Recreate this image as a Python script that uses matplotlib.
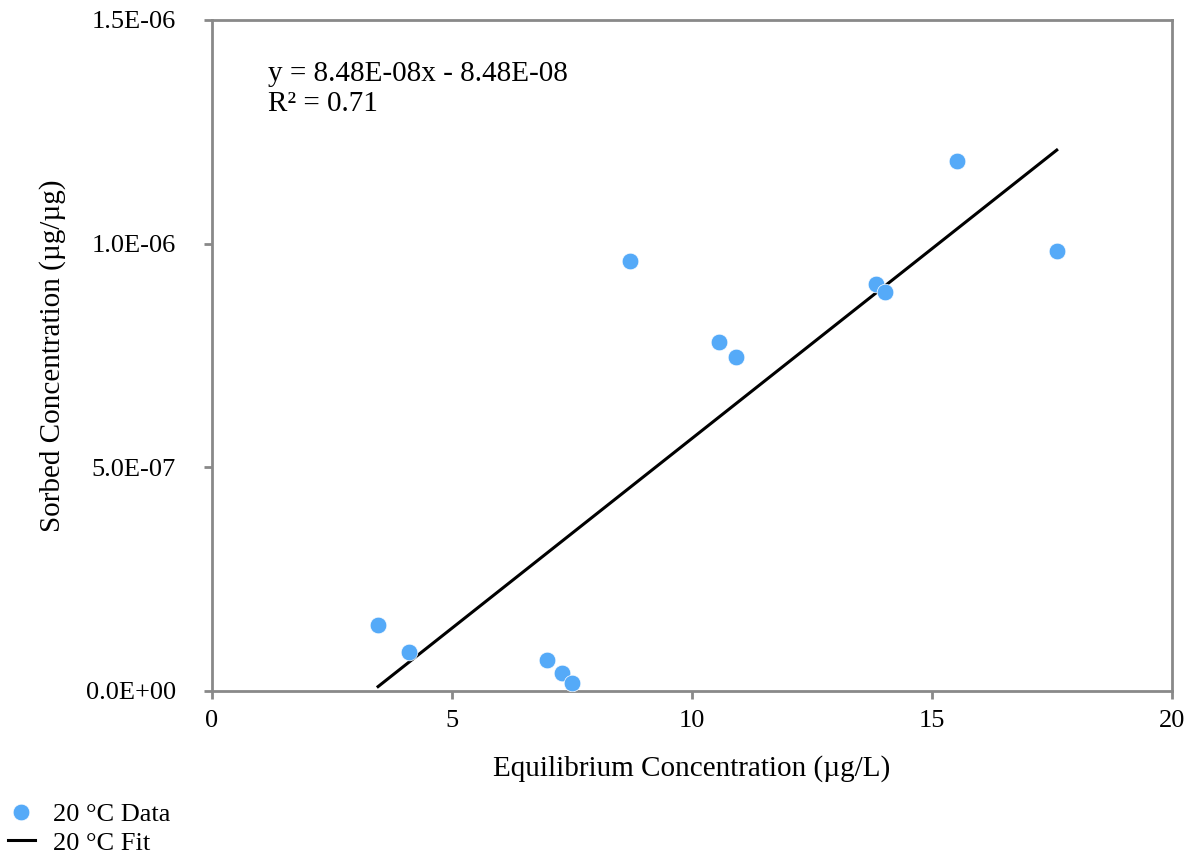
import matplotlib.pyplot as plt
import numpy as np

# data -----------------------------------
conc_eq = [3.46, 4.10, 6.98, 7.29, 7.50, 8.71, 10.56, 10.92, 13.83, 14.02, 15.52, 17.60]
conc_sorbed = [1.47e-07, 8.7e-08, 6.9e-08, 4.0e-08, 1.8e-08, 9.61e-07, 7.80e-07,
               7.46e-07, 9.09e-07, 8.92e-07, 1.184e-06, 9.83e-07]
x_ticks = [0, 5, 10, 15, 20]
y_ticks = [0.0, 5.0e-07, 1.0e-06, 1.5e-06]
y_tick_labels = ['0.0E+00', '5.0E-07', '1.0E-06', '1.5E-06']
eq_text = 'y = 8.48E-08x - 8.48E-08\nR² = 0.71'

plt.rcParams['font.family'] = ['Liberation Serif', 'DejaVu Serif']

# fit line over data range
fit = np.polyfit(conc_eq, conc_sorbed, 1)
fit_x = np.array([min(conc_eq), max(conc_eq)])
fit_y = np.polyval(fit, fit_x)

fig = plt.figure(figsize=(11.91, 8.67), dpi=100)
ax = fig.add_axes([0.178, 0.203, 0.806, 0.774])

gray = '#898989'
ax.plot(fit_x, fit_y, color='black', lw=2.2, label='20 °C Fit', zorder=2)
ax.plot(conc_eq, conc_sorbed, 'o', color='#55AAF8', markersize=12,
        markeredgecolor='white', markeredgewidth=0.5, label='20 °C Data', zorder=3)

ax.set_xlim(0, 20)
ax.set_ylim(0, 1.5e-06)
ax.set_xticks(x_ticks)
ax.set_yticks(y_ticks)
ax.set_yticklabels(y_tick_labels)
ax.tick_params(direction='out', length=6, width=2, color=gray, labelsize=19)
ax.tick_params(axis='x', pad=8)
ax.tick_params(axis='y', pad=20)
for s in ax.spines.values():
    s.set_color(gray)
    s.set_linewidth(2)

ax.set_xlabel('Equilibrium Concentration (µg/L)', fontsize=21, labelpad=16)
ax.set_ylabel('Sorbed Concentration (µg/µg)', fontsize=21, labelpad=14)

ax.text(0.058, 0.939, eq_text, transform=ax.transAxes, fontsize=21,
        va='top', ha='left', linespacing=1.2)

h, l = ax.get_legend_handles_labels()
fig.legend(h[::-1], l[::-1], loc='lower left', bbox_to_anchor=(-0.002, 0.002),
           frameon=False, fontsize=19, handlelength=1.0, handletextpad=0.7,
           labelspacing=0.2, borderaxespad=0.0)

plt.savefig('out.png', dpi=100)
